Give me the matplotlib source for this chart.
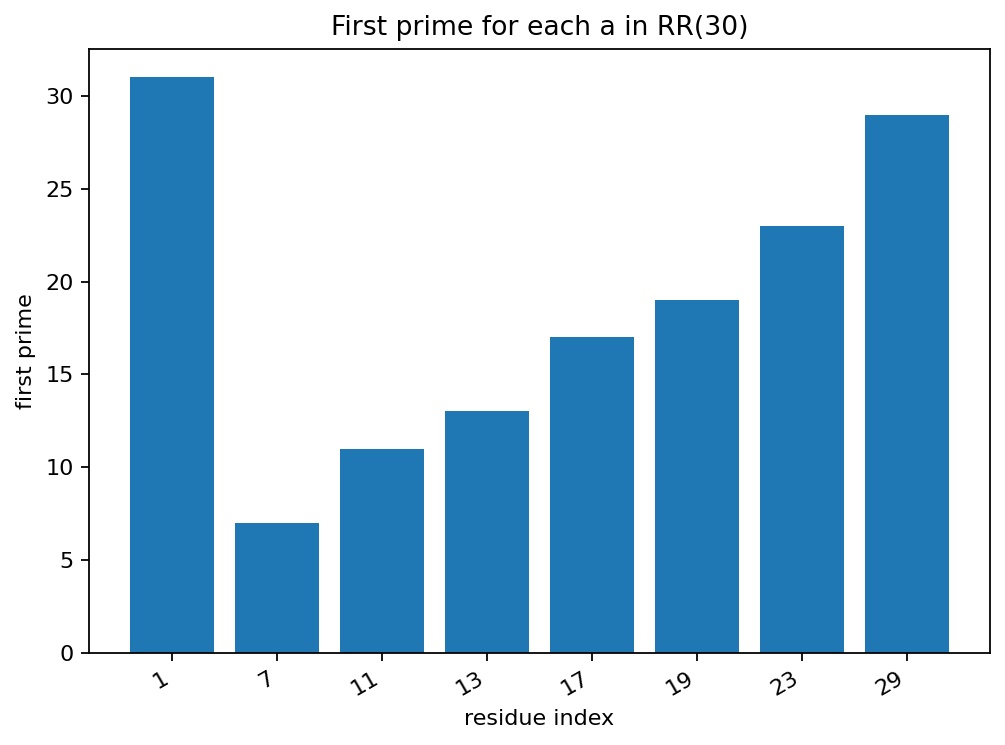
import matplotlib
matplotlib.use("Agg")
import matplotlib.pyplot as plt

residues = ["1", "7", "11", "13", "17", "19", "23", "29"]
first_primes = [31, 7, 11, 13, 17, 19, 23, 29]

fig, ax = plt.subplots(figsize=(1005 / 160, 745 / 160), dpi=160)
ax.bar(residues, first_primes, color="#1f77b4")
ax.set_title("First prime for each a in RR(30)")
ax.set_xlabel("residue index")
ax.set_ylabel("first prime")
plt.setp(ax.get_xticklabels(), rotation=30, ha="right")
fig.subplots_adjust(left=89 / 1005, right=990 / 1005, top=1 - 48.7 / 745, bottom=1 - 652.7 / 745)
fig.savefig("out.png", dpi=160)
